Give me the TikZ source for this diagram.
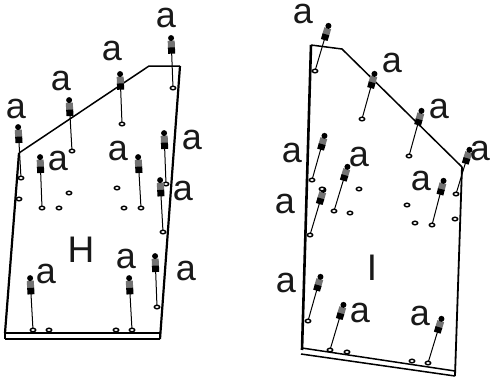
\documentclass[tikz,border=0pt]{standalone}
\usepackage{fontspec}
\setmainfont{Liberation Sans}
\usetikzlibrary{calc,shapes.geometric}
\tikzset{
  lbl/.style={inner sep=0pt,font=\fontsize{36}{36}\selectfont,text=black!90},
  biglbl/.style={inner sep=0pt,font=\fontsize{37}{37}\selectfont,text=black!90},
  washer/.style={draw=black,fill=white,line width=1.4pt,shape=ellipse,minimum width=5.4pt,minimum height=3.6pt,inner sep=0pt},
  plate/.style={draw=black,line width=1.5pt,line join=miter},
  thick plate/.style={draw=black,line width=2.2pt},
  shaft/.style={draw=black,line width=1pt}
}
% head x,y ; washer x,y
\newcommand{\myscrew}[4]{%
  \coordinate (h#1#2) at (#1,#2);
  \coordinate (c#1#2) at (#3,#4);
  \draw[shaft] (h#1#2) -- (c#1#2);
  \node[washer] (w#1#2) at (c#1#2) {};
  \draw[line width=7pt,black!55] ($(h#1#2)!0.09!(w#1#2)$) -- ($(h#1#2)!0.24!(w#1#2)$);
  \draw[line width=7pt,black] ($(h#1#2)!0.22!(w#1#2)$) -- ($(h#1#2)!0.34!(w#1#2)$);
  \fill[black] ($(h#1#2)!0.04!(w#1#2)$) circle (3pt);
}
\begin{document}
\begin{tikzpicture}[x=1pt,y=-1pt]
\useasboundingbox (0,0) rectangle (490,378);
\fill[white] (0,0) rectangle (490,378);
% H plate
\draw[plate] (19,153) -- (149,66) -- (180,66);
\draw[thick plate] (180,66) -- (160,339);
\draw[thick plate] (19,153) -- (5,333);
\draw[plate] (5,333) -- (160,333) (5,339) -- (160,339) (5,332) -- (5,339);
% I plate
\draw[plate] (311,45) -- (342,49) -- (462,167);
\draw[line width=2.6pt] (311,45) -- (302,350);
\draw[thick plate,line width=1.8pt] (462,167) -- (455,376);
\draw[plate] (302,348) -- (455,371) (301,354) -- (455,376);
% H screws
\myscrew{171}{36}{173}{88}
\myscrew{120}{72}{122}{124}
\myscrew{69}{98}{72}{151}
\myscrew{18}{125}{21}{178}
\myscrew{40}{155}{42}{208}
\myscrew{138}{155}{141}{208}
\myscrew{164}{131}{166}{184}
\myscrew{160}{178}{163}{232}
\myscrew{30}{276}{33}{330}
\myscrew{129}{276}{132}{330}
\myscrew{155}{254}{157}{307}
\foreach \p/\q in {117/188,69/193,19/199,59/208,124/208,49/330,116/330}
  \node[washer] at (\p,\q) {};
% I screws
\myscrew{329}{24}{315}{71}
\myscrew{375}{72}{362}{119}
\myscrew{422}{109}{409}{156}
\myscrew{470}{148}{456}{194}
\myscrew{325}{134}{312}{180}
\myscrew{348}{165}{334}{211}
\myscrew{444}{179}{432}{225}
\myscrew{324}{188}{310}{235}
\myscrew{321}{275}{308}{321}
\myscrew{344}{303}{330}{350}
\myscrew{442}{317}{428}{363}
\foreach \p/\q in {359/189,322/189,350/213,407/205,415/223,455/219,347/352,412/361}
  \node[washer] at (\p,\q) {};
% labels
\foreach \p/\q/\n in {166/18/a1,112/51/a2,61/81/a3,16/109/a4,58/161/a5,118/151/a6,192/140/a7,183/191/a8,126/259/a9,46/274/a10,186/271/a11,
  303/14/b1,392/63/b2,439/109/b3,480/151/b4,292/153/b5,359/157/b6,421/181/b7,285/204/b8,286/283/b9,360/313/b10,420/316/b11}
  \node[lbl] (\n) at (\p,\q) {a};
\node[biglbl] (H) at (81,250) {H};
\node[biglbl] (I) at (372,268) {I};
\end{tikzpicture}
\end{document}
